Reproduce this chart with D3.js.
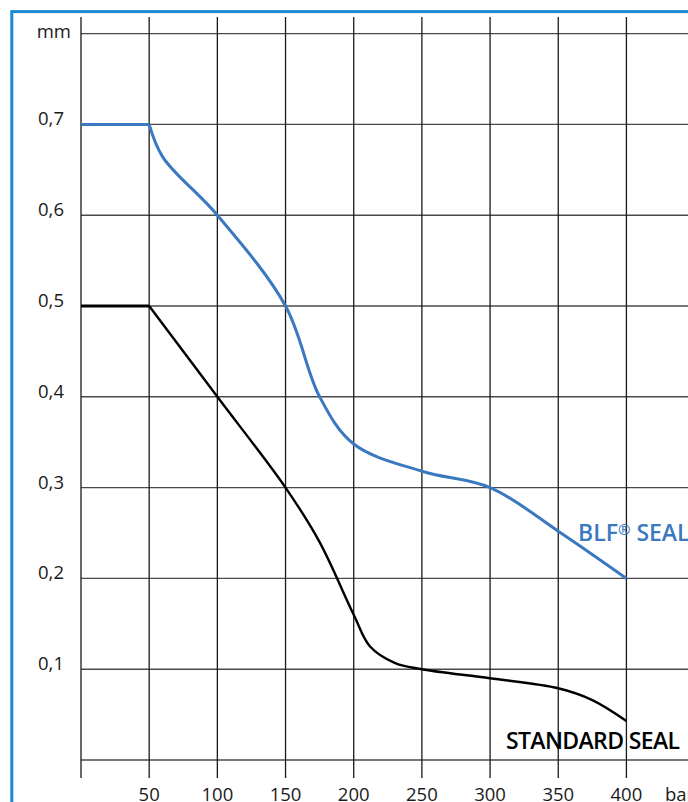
<!DOCTYPE html>
<html lang="en">
  <head>
    <meta charset="utf-8" />
    <title>BLF seal vs standard seal</title>
    <script src="https://cdnjs.cloudflare.com/ajax/libs/d3/7.8.5/d3.min.js"></script>
    <style type="text/css">
      body {
        margin: 0;
        background: #fff;
      }

      .tickLabel {
        font-family: "Open Sans", sans-serif;
        font-size: 18.5px;
        fill: #1a1a1a;
      }

      .seriesLabel {
        font-family: "Open Sans", sans-serif;
        font-size: 23px;
        font-weight: 600;
      }
    </style>
  </head>

  <body>
    <script>
      // data (bar -> mm)
      const blfBar = [0, 50, 60, 100, 150, 175, 200, 250, 300, 350, 400];
      const blfMm = [0.7, 0.7, 0.664, 0.6, 0.5, 0.4, 0.348, 0.318, 0.3, 0.252, 0.2];

      const stdBar = [0, 50, 100, 150, 175, 200, 212, 230, 250, 300, 350, 375, 400];
      const stdMm = [0.5, 0.5, 0.4, 0.3, 0.24, 0.16, 0.125, 0.107, 0.1, 0.09, 0.079, 0.066, 0.043];

      const xTicks = [50, 100, 150, 200, 250, 300, 350, 400];
      const yTicks = [0.1, 0.2, 0.3, 0.4, 0.5, 0.6, 0.7];
      const xGrid = [0, 50, 100, 150, 200, 250, 300, 350, 400, 450];
      const yGrid = [0, 0.1, 0.2, 0.3, 0.4, 0.5, 0.6, 0.7, 0.8];

      const width = 688;
      const height = 802;

      const x = d3.scaleLinear().domain([0, 450]).range([81, 694.6]);
      const y = d3.scaleLinear().domain([0, 0.8]).range([760, 33.6]);

      const svg = d3
        .select("body")
        .append("svg")
        .attr("width", width)
        .attr("height", height)
        .attr("viewBox", [0, 0, width, height]);

      // blue frame
      svg.append("rect")
        .attr("x", 11.8)
        .attr("y", 11.6)
        .attr("width", 800)
        .attr("height", 900)
        .attr("fill", "none")
        .attr("stroke", "#1a8ad4")
        .attr("stroke-width", 3);

      // horizontal grid
      svg.append("g")
        .selectAll("line")
        .data(yGrid)
        .join("line")
        .attr("x1", x(0))
        .attr("x2", width)
        .attr("y1", (d) => y(d))
        .attr("y2", (d) => y(d))
        .attr("stroke", "#4a4a4a")
        .attr("stroke-width", 1.4);

      // vertical grid
      svg.append("g")
        .selectAll("line")
        .data(xGrid)
        .join("line")
        .attr("x1", (d) => x(d))
        .attr("x2", (d) => x(d))
        .attr("y1", 17)
        .attr("y2", 778)
        .attr("stroke", "#1a1a1a")
        .attr("stroke-width", 1.3);

      // y labels
      svg.append("g")
        .selectAll("text")
        .data(yTicks)
        .join("text")
        .attr("class", "tickLabel")
        .attr("x", 64)
        .attr("y", (d) => y(d) + 1)
        .attr("text-anchor", "end")
        .text((d) => d3.format(".1f")(d).replace(".", ","));

      svg.append("text")
        .attr("class", "tickLabel")
        .attr("x", 71)
        .attr("y", 38)
        .attr("text-anchor", "end")
        .text("mm");

      // x labels (cut by the bottom edge, as in the source)
      svg.append("g")
        .selectAll("text")
        .data(xTicks)
        .join("text")
        .attr("class", "tickLabel")
        .attr("x", (d) => x(d))
        .attr("y", 801)
        .attr("text-anchor", "middle")
        .text((d) => d);

      svg.append("text")
        .attr("class", "tickLabel")
        .attr("x", 665)
        .attr("y", 801)
        .text("bar");

      const blf = blfBar.map((b, i) => ({ bar: b, mm: blfMm[i] }));
      const std = stdBar.map((b, i) => ({ bar: b, mm: stdMm[i] }));

      const flat = d3.line().x((d) => x(d.bar)).y((d) => y(d.mm));
      const curve = d3.line()
        .x((d) => x(d.bar))
        .y((d) => y(d.mm))
        .curve(d3.curveCatmullRom.alpha(0.5));

      // flat parts
      svg.append("path")
        .attr("fill", "none")
        .attr("stroke", "#3a78c0")
        .attr("stroke-width", 3)
        .attr("d", flat(blf.slice(0, 2)));
      svg.append("path")
        .attr("fill", "none")
        .attr("stroke", "#000")
        .attr("stroke-width", 3.2)
        .attr("d", flat(std.slice(0, 2)));

      // curves
      svg.append("path")
        .attr("fill", "none")
        .attr("stroke", "#3a78c0")
        .attr("stroke-width", 3)
        .attr("stroke-linejoin", "round")
        .attr("d", curve(blf.slice(1)));
      svg.append("path")
        .attr("fill", "none")
        .attr("stroke", "#000")
        .attr("stroke-width", 2.4)
        .attr("stroke-linejoin", "round")
        .attr("d", curve(std.slice(1)));

      // series labels
      const blfLabel = svg.append("text")
        .attr("class", "seriesLabel")
        .attr("x", 578)
        .attr("y", 541)
        .attr("fill", "#3a78c0");
      blfLabel.append("tspan").text("BLF");
      blfLabel.append("tspan").attr("font-size", 15).attr("dy", -6).text("®");
      blfLabel.append("tspan").attr("dy", 6).text(" SEAL");

      svg.append("text")
        .attr("class", "seriesLabel")
        .attr("x", 506)
        .attr("y", 749)
        .attr("fill", "#000")
        .attr("textLength", 174)
        .text("STANDARD SEAL");
    </script>
  </body>
</html>
